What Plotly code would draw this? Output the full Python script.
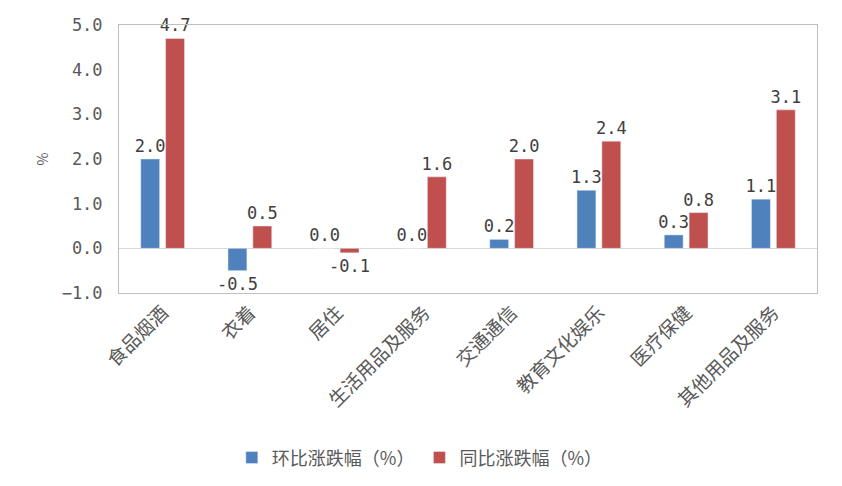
import plotly.graph_objects as go

categories = ["食品烟酒", "衣着", "居住", "生活用品及服务", "交通通信", "教育文化娱乐", "医疗保健", "其他用品及服务"]
mom_values = [2.0, -0.5, 0.0, 0.0, 0.2, 1.3, 0.3, 1.1]
yoy_values = [4.7, 0.5, -0.1, 1.6, 2.0, 2.4, 0.8, 3.1]
tick_vals = [-1, 0, 1, 2, 3, 4, 5]

cjk_font = "Noto Sans CJK SC"
num_font = "DejaVu Sans Mono"
text_color = "#404040"
tick_color = "#595959"

fig = go.Figure()
fig.add_trace(go.Bar(
    x=categories, y=mom_values, name="环比涨跌幅（%）",
    marker=dict(color="#4F81BD"),
    text=[f"{v:.1f}" for v in mom_values], textposition="outside",
    textfont=dict(family=num_font, size=17, color=text_color),
    constraintext="none", cliponaxis=False,
))
fig.add_trace(go.Bar(
    x=categories, y=yoy_values, name="同比涨跌幅（%）",
    marker=dict(color="#C0504D"),
    text=[f"{v:.1f}" for v in yoy_values], textposition="outside",
    textfont=dict(family=num_font, size=17, color=text_color),
    constraintext="none", cliponaxis=False,
))

# the page body adds an 8px offset, so margins are shifted to compensate
fig.update_layout(
    width=842, height=486,
    margin=dict(l=111, r=33, t=17, b=201),
    paper_bgcolor="white", plot_bgcolor="white",
    font=dict(family=cjk_font, size=16, color=tick_color),
    barmode="group", bargap=0.43, bargroupgap=0.24,
    showlegend=True,
    legend=dict(orientation="h", x=0.431, xanchor="center", y=-0.615, yanchor="middle",
                font=dict(size=18), itemwidth=30),
    xaxis=dict(
        tickangle=-45, showline=True, linecolor="#BFBFBF", mirror=True,
        showgrid=False, ticks="", tickfont=dict(size=19), automargin=False,
    ),
    yaxis=dict(
        range=[-1, 5], tickvals=tick_vals, tickformat=".1f",
        showline=True, linecolor="#BFBFBF", mirror=True, showgrid=False,
        zeroline=True, zerolinecolor="#D9D9D9", zerolinewidth=1,
        ticks="", ticklabelstandoff=12,
        tickfont=dict(family=num_font, size=17), automargin=False,
        title=dict(text="%", font=dict(size=14), standoff=9),
    ),
)

fig.write_html("out.html")
